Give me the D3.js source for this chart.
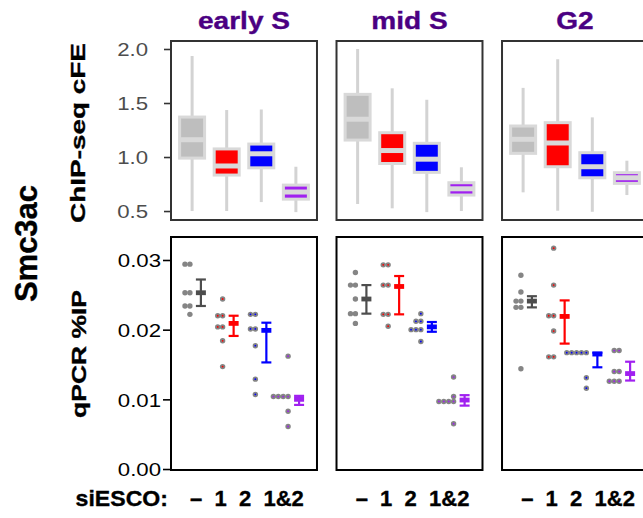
<!DOCTYPE html>
<html>
<head>
<meta charset="utf-8">
<script src="https://cdn.jsdelivr.net/npm/d3@7"></script>
<style>
  body { margin: 0; background: #fff; }
  svg { display: block; }
  text { font-family: "Liberation Sans", Arial, Helvetica, sans-serif; }
</style>
</head>
<body>
<svg id="chart" width="643" height="518"></svg>
<script>
// Cell-cycle phases (panel columns) and siESCO treatments (categories)
const phases = ["early S", "mid S", "G2"];
const conditions = ["–", "1", "2", "1&2"];
const boxFill = ["#bebebe", "#ff0000", "#0000ff", "#a020f0"];
const barColor = ["#4d4d4d", "#ff0000", "#0000ff", "#a020f0"];

// ChIP-seq cFE box statistics: [lower whisker, Q1, median, Q3, upper whisker]
const chipEarlyS = [
  [0.50, 0.99, 1.16, 1.37, 1.935],
  [0.50, 0.833, 0.917, 1.075, 1.435],
  [0.583, 0.90, 1.03, 1.12, 1.44],
  [0.49, 0.61, 0.676, 0.74, 0.91]
];
const chipMidS = [
  [0.565, 1.157, 1.35, 1.58, 2.0],
  [0.525, 0.94, 1.06, 1.225, 1.636],
  [0.49, 0.858, 0.98, 1.127, 1.53],
  [0.50, 0.648, 0.706, 0.762, 0.905]
];
const chipG2 = [
  [0.673, 1.034, 1.164, 1.287, 1.64],
  [0.503, 0.91, 1.13, 1.318, 1.905],
  [0.493, 0.808, 0.91, 1.04, 1.367],
  [0.648, 0.756, 0.808, 0.855, 0.966]
];

// qPCR %IP replicate values
const qpcrEarlyS = [
  [0.0294, 0.0294, 0.0253, 0.0253, 0.0234, 0.0234, 0.0222],
  [0.0244, 0.0220, 0.0220, 0.0204, 0.0204, 0.0184, 0.0147],
  [0.0222, 0.0222, 0.0201, 0.0201, 0.0177, 0.0129, 0.0107],
  [0.0162, 0.0104, 0.0104, 0.0104, 0.0104, 0.0083, 0.0061]
];
const qpcrMidS = [
  [0.0282, 0.0264, 0.0264, 0.0244, 0.0223, 0.0223, 0.0209],
  [0.0293, 0.0293, 0.0264, 0.0264, 0.0222, 0.0222, 0.0205],
  [0.0223, 0.0212, 0.0212, 0.0200, 0.0200, 0.0200, 0.0183],
  [0.0132, 0.0104, 0.0097, 0.0097, 0.0097, 0.0097, 0.0065]
];
const qpcrG2 = [
  [0.0278, 0.0254, 0.0241, 0.0241, 0.0232, 0.0232, 0.0144],
  [0.0317, 0.0264, 0.0220, 0.0220, 0.0198, 0.0161, 0.0161],
  [0.0167, 0.0167, 0.0167, 0.0167, 0.0167, 0.0131, 0.0116],
  [0.0170, 0.0170, 0.0140, 0.0140, 0.0126, 0.0126, 0.0126]
];

// qPCR summary: [mean, lower error, upper error]
const qpcrStatEarlyS = [[0.0253, 0.0234, 0.0272], [0.0209, 0.0191, 0.0220], [0.0199, 0.0153, 0.0210], [0.0100, 0.0092, 0.0105]];
const qpcrStatMidS   = [[0.0244, 0.0223, 0.0264], [0.0262, 0.0222, 0.0277], [0.0204, 0.0197, 0.0211], [0.0099, 0.0091, 0.0106]];
const qpcrStatG2     = [[0.0241, 0.0232, 0.0248], [0.0219, 0.0180, 0.0242], [0.0165, 0.0146, 0.0167], [0.0137, 0.0127, 0.0154]];

const chipTicks = [0.5, 1.0, 1.5, 2.0];
const qpcrTicks = [0.00, 0.01, 0.02, 0.03];

const chipByPhase = { "early S": chipEarlyS, "mid S": chipMidS, "G2": chipG2 };
const qpcrByPhase = { "early S": qpcrEarlyS, "mid S": qpcrMidS, "G2": qpcrG2 };
const statByPhase = { "early S": qpcrStatEarlyS, "mid S": qpcrStatMidS, "G2": qpcrStatG2 };

const svg = d3.select("#chart");

// Scales
const panelX = d3.scaleBand().domain(phases).range([171, 648]).paddingInner(0.118);
const pw = panelX.bandwidth();
const yChip = d3.scaleLinear().domain([0.417, 2.074]).range([220, 41]);
const yQ = d3.scaleLinear().domain([-0.00014, 0.0333]).range([470, 237]);
const xChip = d3.scalePoint().domain(conditions).range([0, pw]).padding(0.61);
const xQ = d3.scalePoint().domain(conditions).range([0, pw]).padding(0.73);

function addText(parent, o) {
  const t = parent.append("text")
    .attr("transform", `translate(${o.x},${o.y}) rotate(${o.rotate || 0}) scale(${o.sx || 1},1)`)
    .attr("text-anchor", o.anchor || "start")
    .attr("font-size", o.size)
    .attr("font-weight", o.weight || "normal")
    .attr("fill", o.fill || "#000")
    .attr("xml:space", "preserve")
    .style("white-space", "pre")
    .text(o.text);
  if (o.weight === "bold") {
    t.attr("stroke", o.fill || "#000").attr("stroke-width", 0.35).attr("paint-order", "stroke");
  }
  return t;
}

const whiskerColor = "#d3d3d3";
const boxStroke = "#d9d9d9";
const boxHalf = 12.5;

phases.forEach(phase => {
  const x0 = panelX(phase);

  // ---- ChIP-seq boxplots ----
  const gTop = svg.append("g").attr("transform", `translate(${x0},0)`);
  chipByPhase[phase].forEach((s, i) => {
    const cx = xChip(conditions[i]);
    const [lo, q1, med, q3, hi] = s;
    gTop.append("line")
      .attr("x1", cx).attr("x2", cx)
      .attr("y1", yChip(lo)).attr("y2", yChip(hi))
      .attr("stroke", whiskerColor).attr("stroke-width", 3);
    gTop.append("rect")
      .attr("x", cx - boxHalf).attr("width", boxHalf * 2)
      .attr("y", yChip(q3)).attr("height", yChip(q1) - yChip(q3))
      .attr("fill", boxFill[i]).attr("stroke", boxStroke).attr("stroke-width", 3);
    gTop.append("line")
      .attr("x1", cx - boxHalf).attr("x2", cx + boxHalf)
      .attr("y1", yChip(med)).attr("y2", yChip(med))
      .attr("stroke", boxStroke).attr("stroke-width", 5);
  });
  gTop.append("rect")
    .attr("x", 0).attr("y", yChip.range()[1])
    .attr("width", pw).attr("height", yChip.range()[0] - yChip.range()[1])
    .attr("fill", "none").attr("stroke", "#333").attr("stroke-width", 2);

  // ---- qPCR dots with mean and error bars ----
  const gBot = svg.append("g").attr("transform", `translate(${x0},0)`);
  qpcrByPhase[phase].forEach((vals, i) => {
    const cx = xQ(conditions[i]);
    const dotX = cx - 5, barX = cx + 6;
    // stack replicates sharing a value leftwards from the dot column
    const seen = new Map();
    vals.forEach(v => {
      const key = Math.round(yQ(v));
      const k = seen.get(key) || 0;
      seen.set(key, k + 1);
      const px = dotX - k * 4.9, py = yQ(v);
      gBot.append("circle").attr("cx", px).attr("cy", py).attr("r", 2.7).attr("fill", "#858585");
      if (i > 0) {
        gBot.append("circle").attr("cx", px).attr("cy", py).attr("r", 0.9).attr("fill", barColor[i]);
      }
    });
    const [m, lo, hi] = statByPhase[phase][i];
    const c = barColor[i];
    gBot.append("line").attr("x1", barX).attr("x2", barX)
      .attr("y1", yQ(lo)).attr("y2", yQ(hi)).attr("stroke", c).attr("stroke-width", 2.2);
    [lo, hi].forEach(v => {
      gBot.append("line").attr("x1", barX - 5).attr("x2", barX + 5)
        .attr("y1", yQ(v)).attr("y2", yQ(v)).attr("stroke", c).attr("stroke-width", 2.2);
    });
    gBot.append("rect").attr("x", barX - 5).attr("width", 10)
      .attr("y", yQ(m) - 2.4).attr("height", 4.8).attr("fill", c);
  });
  gBot.append("rect")
    .attr("x", 0).attr("y", yQ.range()[1])
    .attr("width", pw).attr("height", yQ.range()[0] - yQ.range()[1])
    .attr("fill", "none").attr("stroke", "#000").attr("stroke-width", 2);

  // ---- phase title ----
  addText(svg, { x: x0 + pw / 2, y: 29, text: phase, size: 23, weight: "bold", fill: "#4b0082", anchor: "middle", sx: 1.22 });

  // ---- treatment labels ----
  addText(svg, { x: x0 + pw / 2 + 3, y: 506, text: conditions.join("  "), size: 22, weight: "bold", anchor: "middle", sx: 1.0 });
});

// ---- y axes on the first column ----
const xLeft = panelX(phases[0]);
const axTop = svg.append("g").attr("transform", `translate(${xLeft},0)`)
  .call(d3.axisLeft(yChip).tickValues(chipTicks).tickFormat(d3.format(".1f")).tickSize(7));
axTop.select(".domain").remove();
axTop.selectAll(".tick line").attr("stroke", "#333").attr("stroke-width", 1.6);
axTop.selectAll(".tick text")
  .attr("x", null).attr("dy", "0.35em")
  .attr("transform", "translate(-23,0) scale(1.17,1)")
  .attr("font-size", 19).attr("fill", "#4d4d4d")
  .attr("font-family", "Liberation Sans, Arial, sans-serif");

const axBot = svg.append("g").attr("transform", `translate(${xLeft},0)`)
  .call(d3.axisLeft(yQ).tickValues(qpcrTicks).tickFormat(d3.format(".2f")).tickSize(8));
axBot.select(".domain").remove();
axBot.selectAll(".tick line").attr("stroke", "#000").attr("stroke-width", 1.6);
axBot.selectAll(".tick text")
  .attr("x", null).attr("dy", "0.35em")
  .attr("transform", "translate(-10,0) scale(1.17,1)")
  .attr("font-size", 19).attr("fill", "#000")
  .attr("font-family", "Liberation Sans, Arial, sans-serif");

// ---- row and figure labels ----
addText(svg, { x: 37, y: 243.5, text: "Smc3ac", size: 31, weight: "bold", anchor: "middle", rotate: -90 });
addText(svg, { x: 85, y: 133, text: "ChIP-seq cFE", size: 21, weight: "bold", anchor: "middle", rotate: -90, sx: 1.33 });
addText(svg, { x: 86, y: 354, text: "qPCR %IP", size: 21, weight: "bold", anchor: "middle", rotate: -90, sx: 1.26 });
addText(svg, { x: 168, y: 506, text: "siESCO:", size: 22, weight: "bold", anchor: "end", sx: 1.05 });
</script>
</body>
</html>
